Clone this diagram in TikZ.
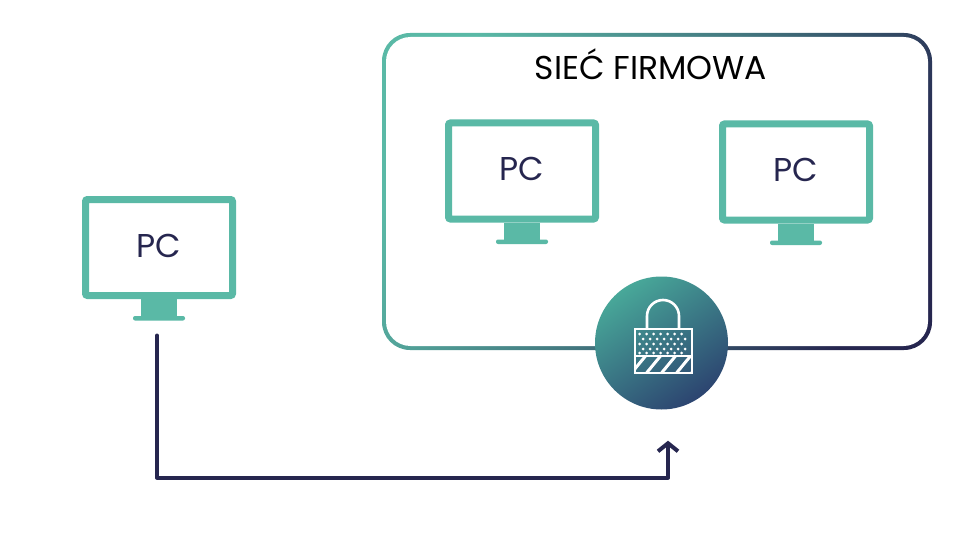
\documentclass[tikz,border=0pt]{standalone}
\usepackage{fontspec}
\setmainfont{Poppins}
\usetikzlibrary{positioning}
\usetikzlibrary{arrows.meta}
\definecolor{morski}{HTML}{5AB9A6}
\definecolor{granat}{HTML}{26264F}
\definecolor{jasnyzamek}{HTML}{48A899}
\definecolor{ciemnyzamek}{HTML}{2C4470}
\tikzset{
	monitor/.style={draw=morski, line width=7pt, rounded corners=2pt, fill=white, minimum width=147pt, minimum height=96pt, text=granat, text depth=4pt, font=\fontsize{33}{33}\selectfont},
	stopka/.style={fill=morski, minimum width=36pt, minimum height=18pt, inner sep=0pt, outer sep=0pt},
	podstawa/.style={fill=morski, rounded corners=2pt, minimum width=52pt, minimum height=4.5pt, inner sep=0pt, outer sep=0pt},
	lacze/.style={draw=granat, line width=4pt, line join=round, line cap=round},
	biel/.style={draw=white, line width=2.6pt}
}
\begin{document}
\begin{tikzpicture}[x=1pt,y=-1pt,node distance=120pt]
	\useasboundingbox (0,0) rectangle (960,540);
	% siec
	\node[rounded corners=28pt, top color=morski, bottom color=granat, middle color=morski!55!granat, shading angle=62, minimum width=550pt, minimum height=317pt, inner sep=0pt] (siec) at (657,191.5) {};
	\node[rounded corners=24.5pt, fill=white, minimum width=542pt, minimum height=309pt, inner sep=0pt] (wnetrze) at (siec.center) {};
	\node[font=\fontsize{33}{33}\selectfont, text=black, inner sep=0pt] (nazwa) at (651,64) {SIEĆ FIRMOWA};
	% komputery
	\node[monitor] (pcA) at (159,247.5) {PC\hspace{4pt}};
	\node[monitor] (pcB) at (522,171) {PC\hspace{2pt}};
	\node[monitor, right=120pt of pcB, yshift=-1pt] (pcC) {PC};
	\foreach \m in {pcA,pcB,pcC} {
		\node[stopka, below=0pt of \m.south] (\m s) {};
		\node[podstawa, below=-1pt of \m s.south] (\m p) {};
	}
	% klodka
	\node[circle, top color=jasnyzamek, bottom color=ciemnyzamek, shading angle=35, minimum size=133pt, inner sep=0pt] (klodka) at (661.5,343) {};
	\begin{scope}[shift={(klodka.center)}]
		\clip[] (-26.5,13) rectangle (30.5,30);
		\foreach \x in {-30,-15,...,30}
			\draw[biel, line width=3pt] (\x,30) -- (\x+14,13);
	\end{scope}
	\begin{scope}[shift={(klodka.center)}]
		\foreach \y/\s in {-9/0,-4/3.5,1/0,6/3.5,10/0}
			\foreach \x in {-22,-15,...,26}
				\fill[white] (\x+\s,\y) circle (1.5pt);
		\draw[biel] (-26.5,-14) rectangle (30.5,30);
		\draw[biel] (-26.5,13) -- (30.5,13);
		\draw[biel] (-14.5,-14) -- (-14.5,-27) arc[start angle=180, end angle=360, radius=16pt, y radius=-16pt] -- (17.5,-14);
	\end{scope}
	% polaczenie
	\coordinate (start) at ([xshift=-2pt,yshift=-15pt]pcAp.south);
	\coordinate (wejscie) at ([xshift=6.5pt,yshift=-31pt]klodka.south);
	\draw[lacze, -{Straight Barb[length=8pt,width=20pt]}] (start) -- ++(0,142) -| (wejscie);
\end{tikzpicture}
\end{document}
